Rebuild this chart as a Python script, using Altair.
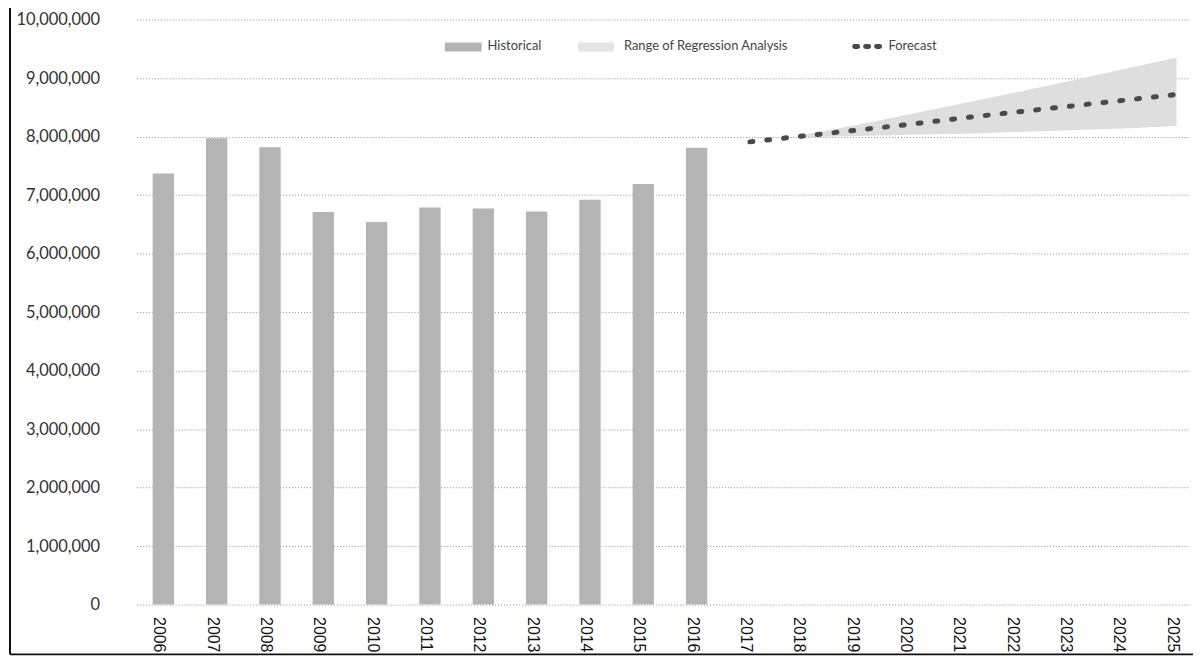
import altair as alt
import pandas as pd

all_years = ["2006", "2007", "2008", "2009", "2010", "2011", "2012", "2013", "2014", "2015",
             "2016", "2017", "2018", "2019", "2020", "2021", "2022", "2023", "2024", "2025"]

hist_years = ["2006", "2007", "2008", "2009", "2010", "2011", "2012", "2013", "2014", "2015", "2016"]
hist_values = [7370000, 7970000, 7820000, 6710000, 6540000, 6790000, 6770000, 6720000,
               6920000, 7190000, 7810000]

fc_years = ["2017", "2018", "2019", "2020", "2021", "2022", "2023", "2024", "2025"]
fc_values = [7910000, 8010000, 8110000, 8210000, 8320000, 8420000, 8520000, 8620000, 8720000]

range_years = ["2018", "2019", "2020", "2021", "2022", "2023", "2024", "2025"]
range_low = [7990000, 8010000, 8030000, 8050000, 8080000, 8110000, 8140000, 8180000]
range_high = [8030000, 8200000, 8380000, 8570000, 8760000, 8950000, 9150000, 9350000]

y_ticks = [0, 1000000, 2000000, 3000000, 4000000, 5000000, 6000000, 7000000, 8000000,
           9000000, 10000000]

hist_df = pd.DataFrame({"year": hist_years, "value": hist_values})
fc_df = pd.DataFrame({"year": fc_years, "value": fc_values})
range_df = pd.DataFrame({"year": range_years, "value": range_low, "high": range_high})
one_df = pd.DataFrame({"k": [0]})

x_scale = alt.Scale(domain=all_years, paddingInner=0.6, paddingOuter=0.17, align=0.9)
y_scale = alt.Scale(domain=[0, 10000000], nice=False)

x_axis = alt.Axis(labelAngle=90, labelFont="Liberation Sans", labelFontSize=16,
                  labelColor="#111111", labelPadding=12, labelOffset=-4, ticks=False,
                  domain=False, grid=False, title=None)
y_axis = alt.Axis(values=y_ticks, format=",d", labelFont="Lato", labelFontSize=16.5,
                  labelColor="#333333", labelPadding=37, ticks=False, domain=False,
                  grid=True, gridColor="#8c8c8c", gridDash=[1, 2], gridWidth=1, title=None)

X = alt.X("year:N", scale=x_scale, axis=x_axis, sort=all_years)
Y = alt.Y("value:Q", scale=y_scale, axis=y_axis)

bars = alt.Chart(hist_df).mark_bar(color="#b4b4b4").encode(x=X, y=Y)
area = alt.Chart(range_df).mark_area(color="#dedede").encode(x=X, y=Y, y2=alt.Y2("high:Q"))
line = alt.Chart(fc_df).mark_line(color="#4a4a4a", strokeWidth=5, strokeDash=[3, 14],
                                  strokeCap="round").encode(x=X, y=Y)

# legend (drawn inside plot)
leg_hist = alt.Chart(one_df).mark_rect(color="#b4b4b4").encode(
    x=alt.value(310), x2=alt.value(347), y=alt.value(23), y2=alt.value(32))
leg_hist_t = alt.Chart(one_df).mark_text(align="left", baseline="middle", font="Lato",
                                         fontSize=13, color="#444444").encode(
    x=alt.value(353), y=alt.value(27), text=alt.value("Historical"))
leg_rng = alt.Chart(one_df).mark_rect(color="#e4e4e4").encode(
    x=alt.value(444), x2=alt.value(480), y=alt.value(23), y2=alt.value(32))
leg_rng_t = alt.Chart(one_df).mark_text(align="left", baseline="middle", font="Lato",
                                        fontSize=13, color="#444444").encode(
    x=alt.value(490), y=alt.value(27), text=alt.value("Range of Regression Analysis"))
leg_fc = alt.Chart(one_df).mark_rule(color="#4a4a4a", strokeWidth=5, strokeDash=[3, 8],
                                     strokeCap="round").encode(
    x=alt.value(722), x2=alt.value(749), y=alt.value(27))
leg_fc_t = alt.Chart(one_df).mark_text(align="left", baseline="middle", font="Lato",
                                       fontSize=13, color="#444444").encode(
    x=alt.value(756), y=alt.value(27), text=alt.value("Forecast"))

# scan frame lines (left and bottom)
frame_left = alt.Chart(one_df).mark_rule(color="#111111", strokeWidth=2).encode(
    x=alt.value(-127), y=alt.value(-18), y2=alt.value(638))
frame_bottom = alt.Chart(one_df).mark_rule(color="#111111", strokeWidth=2).encode(
    x=alt.value(-127), x2=alt.value(1062), y=alt.value(638))

chart = alt.layer(
    area, bars, line,
    leg_hist, leg_hist_t, leg_rng, leg_rng_t, leg_fc, leg_fc_t,
    frame_left, frame_bottom,
).properties(
    width=1058, height=588,
    autosize=alt.AutoSizeParams(type="none"),
    padding={"left": 129, "top": 10, "right": 4, "bottom": 52},
).configure_view(stroke="transparent")

chart.save("out.html", embed_options={"renderer": "svg", "actions": False})
